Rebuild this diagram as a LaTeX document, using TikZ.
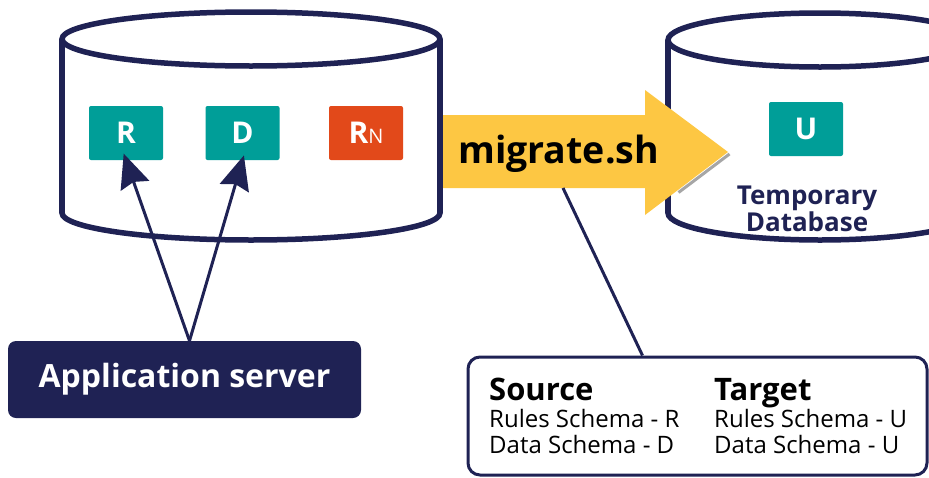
\documentclass[tikz,border=0pt]{standalone}
\usepackage{fontspec}
\setmainfont{Open Sans}
\usepackage{tikz}
\usetikzlibrary{arrows.meta,positioning}

\definecolor{navy}{HTML}{1F2254}
\definecolor{teal}{HTML}{009E98}
\definecolor{rust}{HTML}{E2491A}
\definecolor{gold}{HTML}{FDC743}

% database drum: centre x, top y, bottom y, x radius
\newcommand{\drum}[4]{%
  \draw[db, fill=white] (#1,#3) ellipse [x radius=#4, y radius=27];
  \fill[white] (#1-#4,#2) rectangle (#1+#4,#3);
  \draw[db] (#1-#4,#2) -- (#1-#4,#3) (#1+#4,#2) -- (#1+#4,#3);
  \draw[db, fill=white] (#1,#2) ellipse [x radius=#4, y radius=27];}

\begin{document}
\begin{tikzpicture}[
  x=1pt, y=-1pt,
  >={Stealth[length=34pt,width=30pt,inset=4pt]},
  db/.style={draw=navy, line width=5.5pt},
  schema/.style={fill=teal, text=white, rounded corners=2pt,
                 minimum width=74pt, minimum height=54pt, inner sep=0pt,
                 font=\bfseries\fontsize{30}{30}\selectfont},
  newschema/.style={schema, fill=rust},
  server/.style={fill=navy, text=white, rounded corners=8pt,
                 minimum width=353pt, minimum height=77pt,
                 font=\bfseries\fontsize{32}{32}\selectfont},
  infobox/.style={draw=navy, fill=white, line width=3pt, rounded corners=12pt,
                  minimum width=459pt, minimum height=118pt},
  head/.style={anchor=base west, inner sep=0pt, font=\bfseries\fontsize{31}{31}\selectfont},
  line/.style={anchor=base west, inner sep=0pt, font=\fontsize{24}{24}\selectfont},
  arr/.style={->, navy, line width=3pt},
  link/.style={navy, line width=3pt}
]
  \useasboundingbox (0,0) rectangle (929,477);

  % databases
  \drum{251}{39}{213}{189}
  \begin{scope}
    \clip (0,0) rectangle (929,477);
    \drum{820}{40}{213}{152}
  \end{scope}

  % migration arrow
  \draw[gray!70, line width=3pt] (678.5,192.5) -- (729.5,154);
  \fill[gold] (443,115) -- (645,115) -- (645,90) -- (728,152)
              -- (645,215) -- (645,188) -- (443,188) -- cycle;
  \node[anchor=base west, inner sep=0pt, font=\bfseries\fontsize{37.5}{37.5}\selectfont]
    (mig) at (458,163) {migrate.sh};
  \coordinate (tap) at (563,188);

  % schemas
  \node[schema]    (r)  at (126,133)   {R};
  \node[schema]    (d)  at (242.5,133) {D};
  \node[newschema] (rn) at (366,133)   {R{\mdseries\fontsize{20}{20}\selectfont N}};
  \node[schema]    (u)  at (806,129)   {U};
  \node[align=center, text=navy, inner sep=0pt,
        font=\bfseries\fontsize{26}{23}\selectfont] (tmp) at (807,209)
        {Temporary\\Database};

  % application server
  \node[server] (app) at (184.5,379.5) {Application server};
  \draw[arr, shorten >=-7pt] ([xshift=5pt]app.north) -- (r.south);
  \draw[arr, shorten >=-5pt] ([xshift=5pt]app.north) -- (d.south);

  % source / target
  \node[infobox] (info) at (697.5,416) {};
  \draw[link] (tap) -- ([xshift=-55pt]info.north);
  \node[head] (src) at (489,400) {Source};
  \node[line] (srcr) at (489,427) {Rules Schema - R};
  \node[line] (srcd) at (489,453) {Data Schema - D};
  \node[head] (tgt) at (714,400) {Target};
  \node[line] (tgtr) at (714,427) {Rules Schema - U};
  \node[line] (tgtd) at (714,453) {Data Schema - U};
\end{tikzpicture}
\end{document}
